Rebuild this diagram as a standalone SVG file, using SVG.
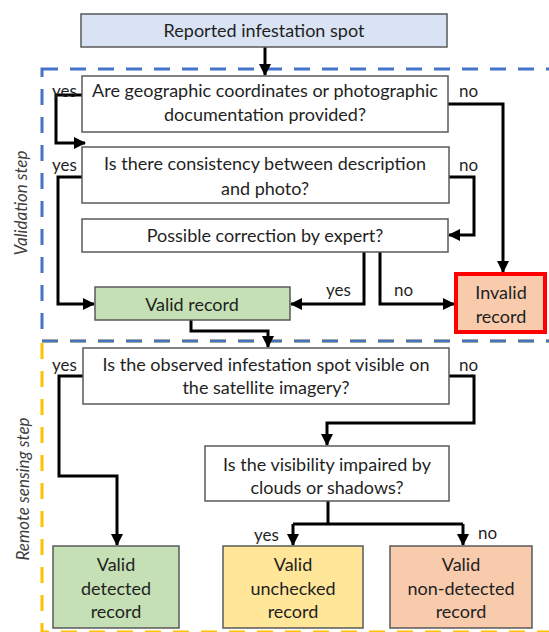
<svg xmlns="http://www.w3.org/2000/svg" width="549" height="632" viewBox="0 0 549 632">
<style>
.box{stroke:#595959;stroke-width:1.5}
.q{fill:#ffffff}
.t{font-family:Lato,"Liberation Sans",sans-serif;font-size:18px;fill:#1f1f1f;text-anchor:middle;dominant-baseline:central}
.l{font-family:Lato,"Liberation Sans",sans-serif;font-size:17px;fill:#1f1f1f;dominant-baseline:central}
.side{font-family:Lato,"Liberation Sans",sans-serif;font-size:17px;font-style:italic;fill:#404040;text-anchor:middle;dominant-baseline:central}
.c{fill:none;stroke:#000;stroke-width:3;stroke-linejoin:miter}
</style>
<defs>
<marker id="ah" markerUnits="userSpaceOnUse" markerWidth="12" markerHeight="12" viewBox="0 0 12 12" refX="11" refY="6" orient="auto">
<path d="M0,0 L12,6 L0,12 Z" fill="#000"/>
</marker>
</defs>
<rect width="549" height="632" fill="#ffffff"/>
<g id="steps">
<rect x="42" y="341" width="530" height="291" fill="none" stroke="#ffc000" stroke-width="3" stroke-dasharray="16 12"/>
<rect x="42" y="69" width="530" height="272" fill="none" stroke="#4472c4" stroke-width="3" stroke-dasharray="16 12"/>
<text class="side" transform="translate(20,203) rotate(-90)">Validation step</text>
<text class="side" transform="translate(22,489) rotate(-90)">Remote sensing step</text>
</g>
<g id="connectors">
<path class="c" d="M265,47 V75" marker-end="url(#ah)"/>
<path class="c" d="M82,95 H56 V143 H85" marker-end="url(#ah)"/>
<path class="c" d="M448,104 H503 V272" marker-end="url(#ah)"/>
<path class="c" d="M82,177 H58 V304 H94" marker-end="url(#ah)"/>
<path class="c" d="M449,177 H474 V235 H449" marker-end="url(#ah)"/>
<path class="c" d="M364,252 V304 H291" marker-end="url(#ah)"/>
<path class="c" d="M380,252 V304 H454" marker-end="url(#ah)"/>
<path class="c" d="M191,320 V331 H268 V347" marker-end="url(#ah)"/>
<path class="c" d="M83,376 H59 V476 H117 V545" marker-end="url(#ah)"/>
<path class="c" d="M449,376 H474 V423 H327 V445" marker-end="url(#ah)"/>
<path class="c" d="M328,501 V524"/>
<path class="c" d="M293,524 H463"/>
<path class="c" d="M293,524 V545" marker-end="url(#ah)"/>
<path class="c" d="M463,524 V545" marker-end="url(#ah)"/>
<text class="l" x="52" y="90">yes</text>
<text class="l" x="459" y="90">no</text>
<text class="l" x="52" y="164">yes</text>
<text class="l" x="459" y="164">no</text>
<text class="l" x="326" y="289">yes</text>
<text class="l" x="394" y="289">no</text>
<text class="l" x="52" y="364">yes</text>
<text class="l" x="459" y="364">no</text>
<text class="l" x="254" y="534">yes</text>
<text class="l" x="478" y="532">no</text>
</g>
<g id="reported">
<rect class="box" x="81" y="14" width="366" height="33" fill="#dae3f3"/>
<text class="t" x="264" y="30">Reported infestation spot</text>
</g>
<g id="q1">
<rect class="box q" x="82" y="76" width="366" height="56"/>
<text class="t" x="265" y="90">Are geographic coordinates or photographic</text>
<text class="t" x="265" y="114">documentation provided?</text>
</g>
<g id="q2">
<rect class="box q" x="82" y="147" width="367" height="56"/>
<text class="t" x="265" y="163">Is there consistency between description</text>
<text class="t" x="265" y="188">and photo?</text>
</g>
<g id="q3">
<rect class="box q" x="82" y="219" width="366" height="33"/>
<text class="t" x="265" y="235">Possible correction by expert?</text>
</g>
<g id="valid">
<rect class="box" x="95" y="287" width="195" height="33" fill="#c5e0b4"/>
<text class="t" x="192" y="304">Valid record</text>
</g>
<g id="invalid">
<rect x="456" y="274" width="89" height="58" fill="#f8cbad" stroke="#ff0000" stroke-width="4"/>
<text class="t" x="501" y="292">Invalid</text>
<text class="t" x="501" y="316">record</text>
</g>
<g id="q4">
<rect class="box q" x="83" y="348" width="366" height="56"/>
<text class="t" x="266" y="364">Is the observed infestation spot visible on</text>
<text class="t" x="266" y="387">the satellite imagery?</text>
</g>
<g id="q5">
<rect class="box q" x="205" y="446" width="244" height="55"/>
<text class="t" x="327" y="464">Is the visibility impaired by</text>
<text class="t" x="327" y="487">clouds or shadows?</text>
</g>
<g id="detected">
<rect class="box" x="53" y="546" width="126" height="82" fill="#c5e0b4"/>
<text class="t" x="116" y="564">Valid</text>
<text class="t" x="116" y="588">detected</text>
<text class="t" x="116" y="611">record</text>
</g>
<g id="unchecked">
<rect class="box" x="223" y="546" width="140" height="82" fill="#ffe699"/>
<text class="t" x="293" y="564">Valid</text>
<text class="t" x="293" y="588">unchecked</text>
<text class="t" x="293" y="611">record</text>
</g>
<g id="nondetected">
<rect class="box" x="390" y="546" width="142" height="82" fill="#f8cbad"/>
<text class="t" x="461" y="564">Valid</text>
<text class="t" x="461" y="588">non-detected</text>
<text class="t" x="461" y="611">record</text>
</g>
</svg>
